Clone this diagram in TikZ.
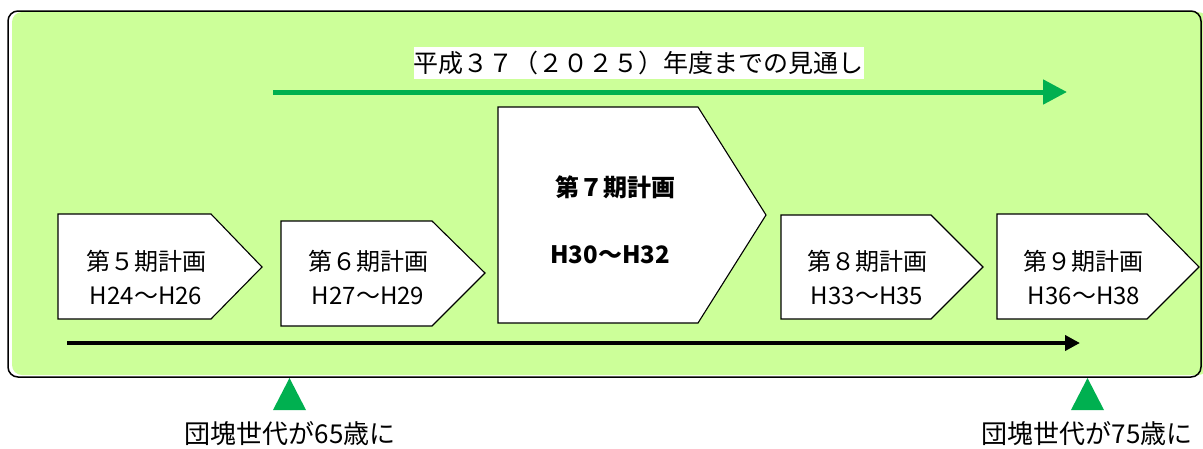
\documentclass[tikz,border=0pt]{standalone}
\usepackage{fontspec}
\setmainfont{Noto Sans CJK JP}
\usetikzlibrary{arrows.meta}
\definecolor{bgreen}{RGB}{204,255,153}
\definecolor{dgreen}{RGB}{0,176,80}
\begin{document}
\begin{tikzpicture}[x=1pt,y=-1pt,
  planbox/.style={draw=black,fill=white,line width=1.1pt,line join=miter},
  ptxt/.style={font=\fontsize{24}{26}\selectfont,inner sep=0pt,anchor=center},
  btxt/.style={font=\bfseries\fontsize{24}{26}\selectfont,inner sep=0pt,anchor=center},
  marker/.style={fill=dgreen},
  note/.style={font=\fontsize{26}{28}\selectfont,inner sep=0pt,anchor=base}]
\useasboundingbox (0,0) rectangle (1203,448);
\clip (0,0) rectangle (1203,448);
% panel
\fill[bgreen,rounded corners=10pt] (12,12) rectangle (1208,375);
\draw[line width=1.5pt,rounded corners=10pt] (8,11) rectangle (1201,377);
% title
\node[fill=white,minimum width=449pt,minimum height=32pt,inner sep=0pt,
  font=\fontsize{25}{27}\selectfont] (title) at (638.5,63) {平成３７（２０２５）年度までの見通し};
% green arrow
\coordinate (g0) at (273,92);
\coordinate (g1) at (1067,92);
\draw[dgreen,line width=5pt,-{Triangle[length=24pt,width=24pt]}] (g0) -- (g1);
% plan boxes
\draw[planbox] (58,214) -- (211,214) -- (262,267) -- (211,319) -- (58,319) -- cycle;
\draw[planbox] (281,221) -- (432,221) -- (485,273) -- (432,326) -- (281,326) -- cycle;
\draw[planbox] (498,107) -- (698,107) -- (766,215) -- (698,323) -- (498,323) -- cycle;
\draw[planbox] (781,215) -- (931,215) -- (983,267) -- (931,319) -- (781,319) -- cycle;
\draw[planbox] (997,214) -- (1147,214) -- (1199,267) -- (1147,319) -- (997,319) -- cycle;
% texts
\node[ptxt] (p5a) at (146,261) {第５期計画};
\node[ptxt] (p5b) at (146,296) {H24～H26};
\node[ptxt] (p6a) at (368,261) {第６期計画};
\node[ptxt] (p6b) at (368,296) {H27～H29};
\node[btxt] (p7a) at (615,187) {第７期計画};
\node[btxt] (p7b) at (610,255) {H30～H32};
\node[ptxt] (p8a) at (867,261) {第８期計画};
\node[ptxt] (p8b) at (867,296) {H33～H35};
\node[ptxt] (p9a) at (1083,261) {第９期計画};
\node[ptxt] (p9b) at (1084,296) {H36～H38};
% black arrow
\coordinate (b0) at (67,343);
\coordinate (b1) at (1080,343);
\draw[black,line width=4.5pt,-{Triangle[length=15pt,width=15pt]}] (b0) -- (b1);
% markers
\fill[marker] (273,410) -- (289.5,378) -- (306,410) -- cycle;
\fill[marker] (1071,410) -- (1087.5,378) -- (1104,410) -- cycle;
\node[note] (n65) at (290,443) {団塊世代が65歳に};
\node[note] (n75) at (1087,443) {団塊世代が75歳に};
\end{tikzpicture}
\end{document}
